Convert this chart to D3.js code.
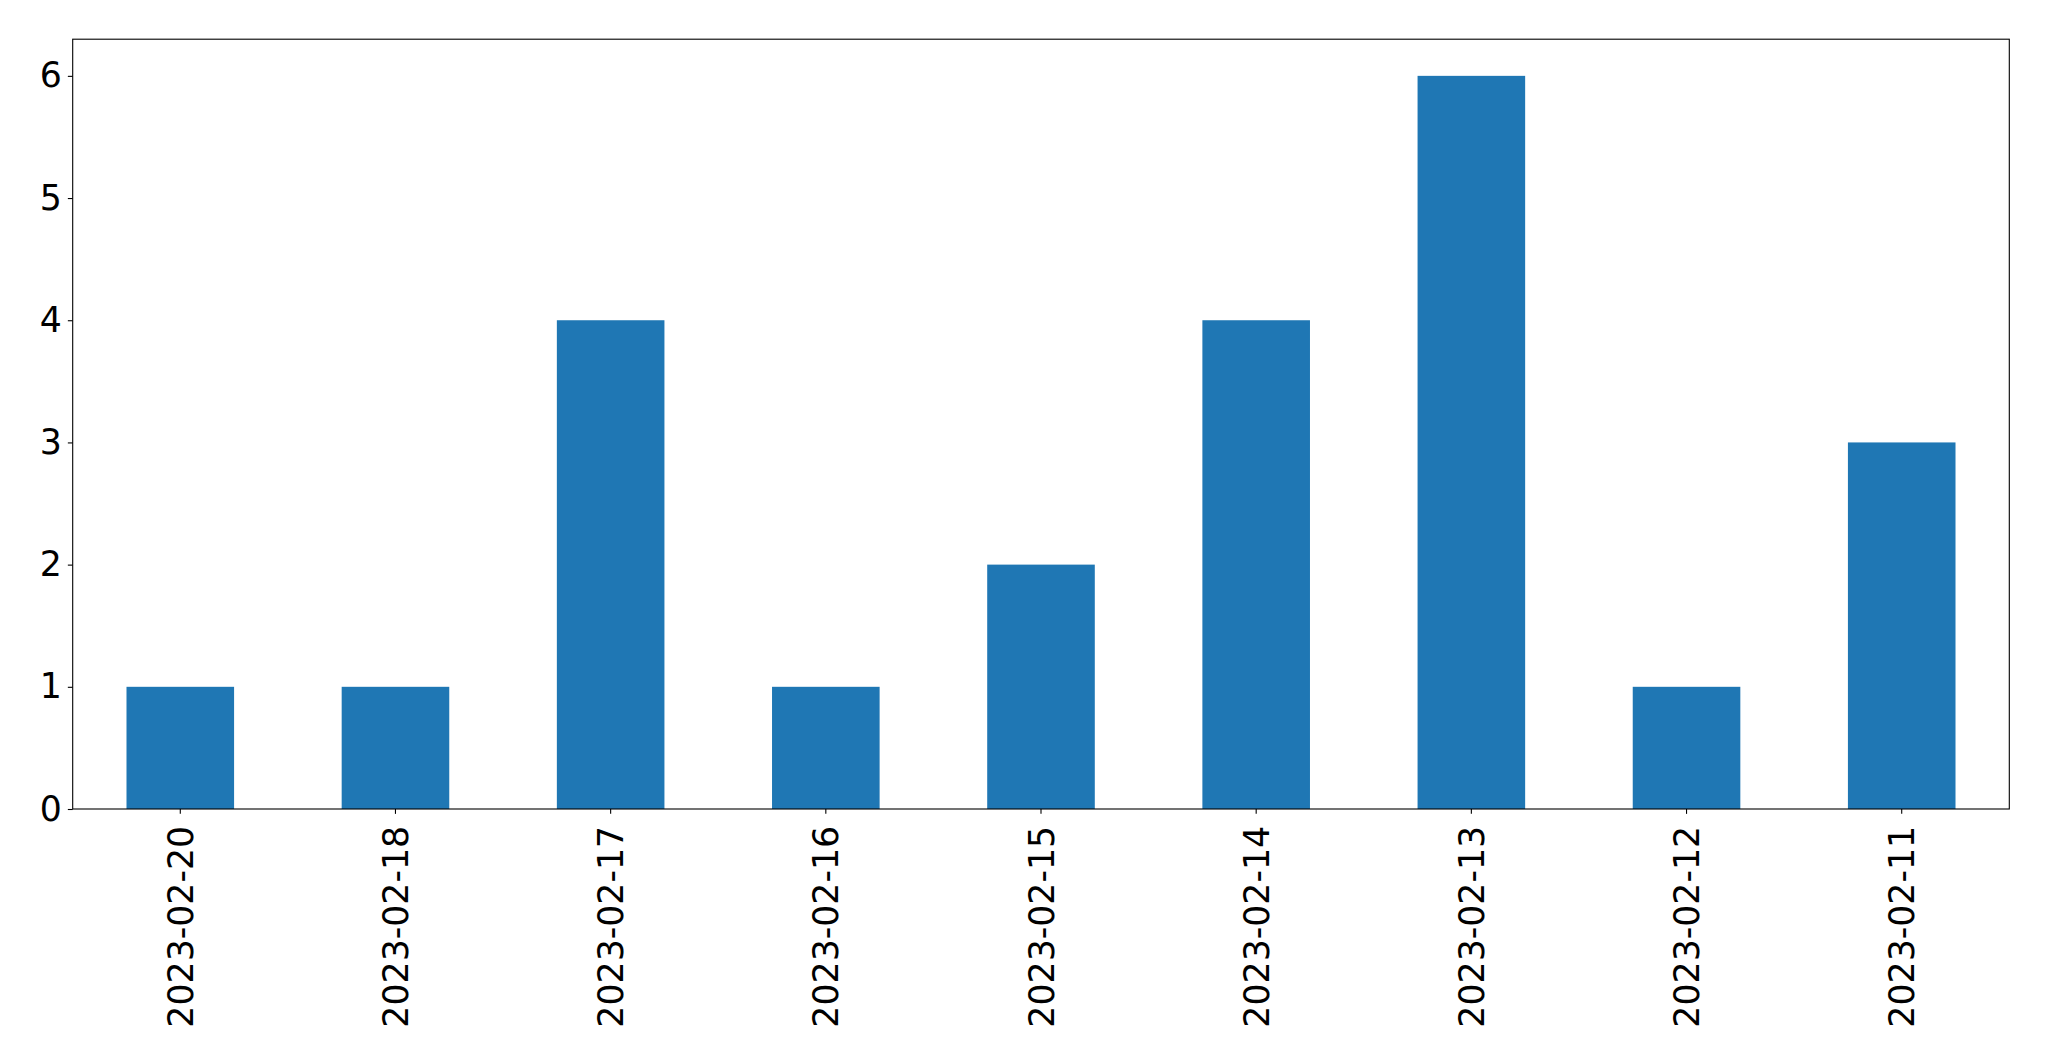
<!DOCTYPE html>
<html>
<head>
<meta charset="utf-8">
<script src="https://cdn.jsdelivr.net/npm/d3@7"></script>
<style>
  html, body { margin: 0; padding: 0; background: #fff; }
  svg text { font-family: "DejaVu Sans", sans-serif; fill: #000; }
</style>
</head>
<body>
<svg id="chart" width="2049" height="1061"></svg>
<script>
const categories = ["2023-02-20","2023-02-18","2023-02-17","2023-02-16","2023-02-15","2023-02-14","2023-02-13","2023-02-12","2023-02-11"];
const values = [1, 1, 4, 1, 2, 4, 6, 1, 3];
const yTicks = [0, 1, 2, 3, 4, 5, 6];

const W = 2049, H = 1061;
const margin = {left: 72.7, right: W - 2009.3, top: 39.2, bottom: H - 809};
const svg = d3.select("#chart");
const iw = W - margin.left - margin.right;
const ih = H - margin.top - margin.bottom;
const g = svg.append("g").attr("transform", `translate(${margin.left},${margin.top})`);

const x = d3.scaleBand().domain(categories).range([0, iw]).paddingInner(0.5).paddingOuter(0.25);
const y = d3.scaleLinear().domain([0, 6.3]).range([ih, 0]);

g.selectAll("rect.bar").data(values).enter().append("rect")
  .attr("class", "bar")
  .attr("x", (d, i) => x(categories[i]))
  .attr("width", x.bandwidth())
  .attr("y", d => y(d))
  .attr("height", d => y(0) - y(d))
  .attr("fill", "#1f77b4");

const fs = 34.72;
const tickLen = 4.86;

const yAxis = g.append("g").call(d3.axisLeft(y).tickValues(yTicks).tickFormat(d3.format("d")).tickSize(tickLen).tickPadding(6));
yAxis.select(".domain").remove();
yAxis.selectAll("text").style("font-size", fs + "px").style("font-family", "DejaVu Sans");
yAxis.selectAll(".tick line").attr("stroke", "#000").attr("stroke-width", 1.1);

const xAxis = g.append("g").attr("transform", `translate(0,${ih})`)
  .call(d3.axisBottom(x).tickSize(tickLen).tickPadding(0));
xAxis.select(".domain").remove();
xAxis.selectAll(".tick line").attr("stroke", "#000").attr("stroke-width", 1.1);
xAxis.selectAll("text")
  .style("font-size", fs + "px").style("font-family", "DejaVu Sans")
  .attr("text-anchor", "end")
  .attr("transform", `translate(0,${tickLen + 12}) rotate(-90)`)
  .attr("x", 0).attr("y", 0).attr("dy", "0.36em");

g.append("rect").attr("x", 0).attr("y", 0).attr("width", iw).attr("height", ih)
  .attr("fill", "none").attr("stroke", "#000").attr("stroke-width", 1.1);
</script>
</body>
</html>
